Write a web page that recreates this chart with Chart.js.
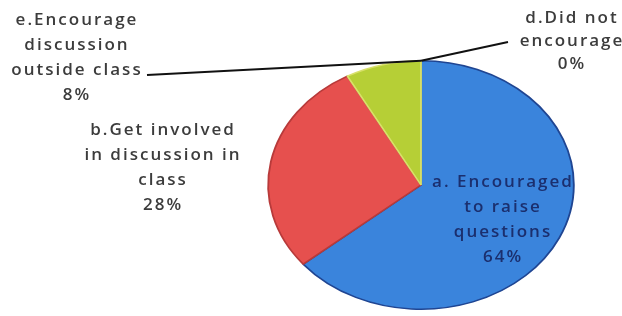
<!DOCTYPE html>
<html>
<head>
<meta charset="utf-8">
<script src="https://cdn.jsdelivr.net/npm/chart.js@4.4.1/dist/chart.umd.min.js"></script>
<style>
	html, body { margin: 0; padding: 0; background: #fff; }
	#wrap { width: 622px; height: 316px; }
</style>
</head>
<body>
<div id="wrap"><canvas id="pie" width="622" height="316"></canvas></div>
<script>
// values (percent)
const categories = [
	["a. Encouraged", "to raise", "questions"],
	["b.Get involved", "in discussion in", "class"],
	["e.Encourage", "discussion", "outside class"],
	["d.Did not", "encourage"]
];
const shares = [64, 28, 8, 0];

const sliceColors = ["#3a84dc", "#e6504e", "#b6cf36", "#888888"];
const edgeColors = ["#1f4592", "#b83a3a", "#d8e06a", "#888888"];

// where each label block sits (center x, first line y) and whether it has a leader line
const labelLayout = [
	{ x: 503, y: 182, color: "#1b2f6e", leader: null },
	{ x: 163, y: 130, color: "#3c3c3c", leader: null },
	{ x: 77, y: 20, color: "#3c3c3c", leader: { x: 147, y: 75, at: "end" } },
	{ x: 572, y: 18, color: "#3c3c3c", leader: { x: 508, y: 42, at: "start" } }
];
const stretchX = 1.23; // the pie in the picture is an ellipse

const ellipsePlugin = {
	id: "ellipse",
	beforeDatasetsDraw(chart) {
		const arc = chart.getDatasetMeta(0).data[0];
		const ctx = chart.ctx;
		ctx.save();
		ctx.translate(arc.x, arc.y);
		ctx.scale(stretchX, 1);
		ctx.translate(-arc.x, -arc.y);
	},
	afterDatasetsDraw(chart) {
		chart.ctx.restore();
	}
};

const labelPlugin = {
	id: "labels",
	afterDraw(chart) {
		const ctx = chart.ctx;
		const arcs = chart.getDatasetMeta(0).data;
		ctx.save();
		ctx.font = "600 17px 'Open Sans', sans-serif";
		ctx.letterSpacing = "2px";
		ctx.textAlign = "center";
		ctx.textBaseline = "middle";
		arcs.forEach((arc, i) => {
			const lay = labelLayout[i];
			const lines = categories[i].concat([shares[i] + "%"]);
			const step = i === 3 ? 23 : 25;
			ctx.fillStyle = lay.color;
			lines.forEach((t, k) => ctx.fillText(t, lay.x, lay.y + k * step));
			if (lay.leader) {
				const ang = lay.leader.at === "end" ? arc.endAngle : arc.startAngle;
				const px = arc.x + arc.outerRadius * stretchX * Math.cos(ang);
				const py = arc.y + arc.outerRadius * Math.sin(ang);
				ctx.strokeStyle = "#111";
				ctx.lineWidth = 2;
				ctx.beginPath();
				ctx.moveTo(lay.leader.x, lay.leader.y);
				ctx.lineTo(px, py);
				ctx.stroke();
			}
		});
		ctx.restore();
	}
};

new Chart(document.getElementById("pie"), {
	type: "pie",
	data: {
		labels: categories.map((c) => c.join(" ")),
		datasets: [{
			data: shares,
			backgroundColor: sliceColors,
			borderColor: edgeColors,
			borderWidth: [1.5, 1.5, 1.5, 0]
		}]
	},
	options: {
		responsive: false,
		animation: false,
		events: [],
		layout: { padding: { top: 60, bottom: 6, left: 296, right: 76 } },
		plugins: {
			legend: { display: false },
			tooltip: { enabled: false }
		}
	},
	plugins: [ellipsePlugin, labelPlugin]
});
</script>
</body>
</html>
